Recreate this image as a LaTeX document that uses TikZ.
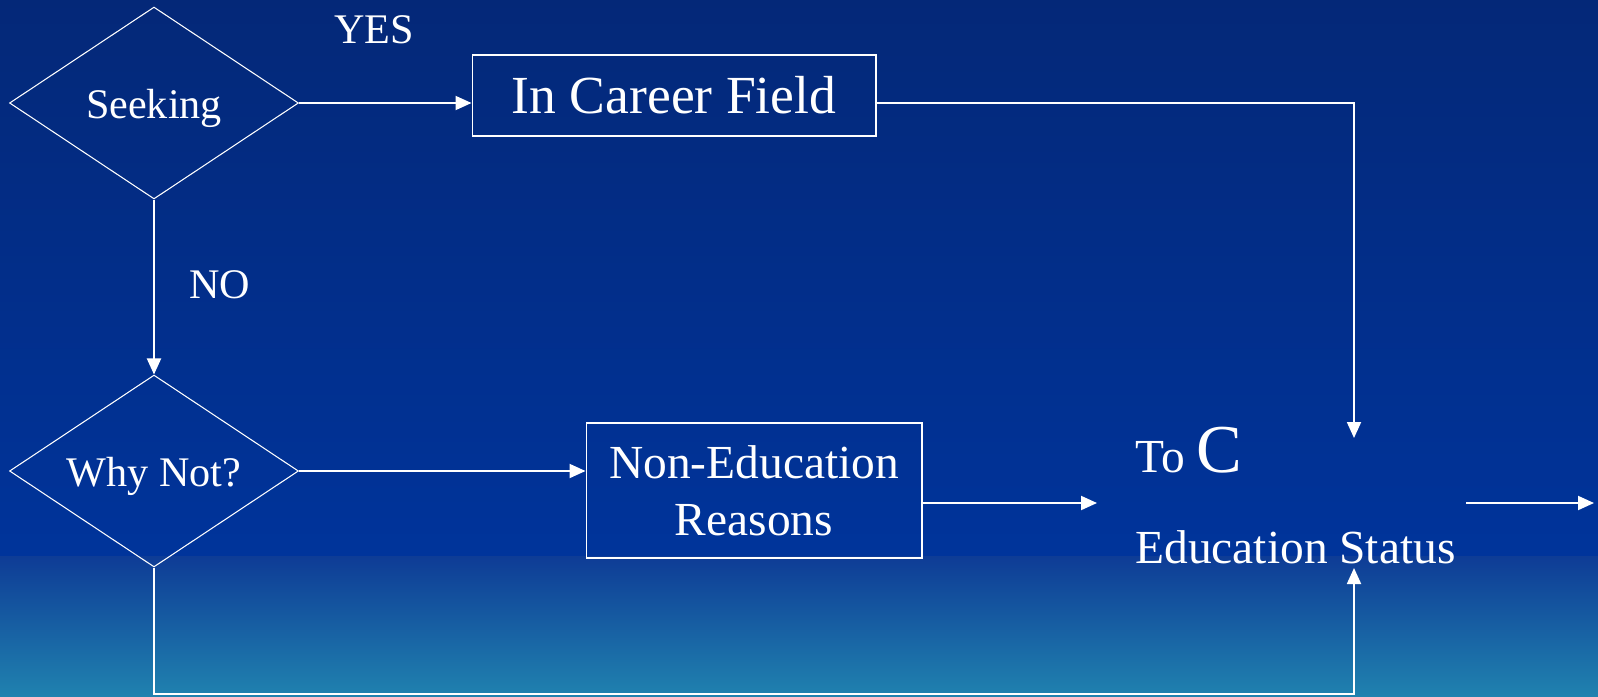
\documentclass[tikz,border=0pt]{standalone}
\usepackage{fontspec}
\setmainfont{Liberation Serif}
\usepackage{tikz}
\usetikzlibrary{arrows.meta,shapes.geometric,positioning}

\definecolor{bgtop}{RGB}{4,40,120}
\definecolor{bgmid}{RGB}{0,52,155}
\definecolor{bglow}{RGB}{14,60,150}
\definecolor{bgbot}{RGB}{32,130,175}

\begin{document}
\begin{tikzpicture}[x=0.02cm,y=-0.02cm,>={Triangle[length=0.32cm,width=0.28cm]}]
            \tikzstyle{decision}=[diamond,aspect=1.5,draw=white,line width=0.6pt,minimum width=5.78cm,minimum height=3.84cm,inner sep=0pt,text height=23pt,text depth=5.2pt,text=white,font=\fontsize{24}{28}\selectfont]
            \tikzstyle{stage}=[rectangle,draw=white,line width=0.6pt,inner sep=0pt,text=white,align=center]
            \tikzstyle{flow}=[draw=white,line width=1.1pt,->]
            \tikzstyle{answer}=[text=white,font=\fontsize{24}{28}\selectfont]
            % background
            \useasboundingbox (0,0) rectangle (1598,696);
            \shade[top color=bgtop,bottom color=bgmid] (0,0) rectangle (1598,557);
            \shade[top color=bglow,bottom color=bgbot] (0,556) rectangle (1598,696);
            \begin{scope}
            \node[decision] (seek) at (154,103) {Seeking};
            \node[decision] (why) at (154,471) {Why Not?};
            \node[stage,minimum width=8.08cm,minimum height=1.62cm,font=\fontsize{30.5}{36}\selectfont] (career) at (674,95.5) {In Career Field};
            \node[stage,minimum width=6.72cm,minimum height=2.7cm,font=\fontsize{27}{32.5}\selectfont] (nonedu) at (754,490.5) {Non-Education\\Reasons};
            \node[answer] (yes) at (374,30) {YES};
            \node[answer] (no) at (220,285) {NO};
            \node[anchor=base west,inner sep=0pt,text=white,font=\fontsize{27}{32}\selectfont] (toc) at (1135,472) {To {\fontsize{39}{44}\selectfont C}};
            \node[anchor=base west,inner sep=0pt,text=white,font=\fontsize{27}{32}\selectfont] (edstat) at (1135,563) {Education Status};
            \coordinate (tin) at (1354,438);
            \coordinate (bin) at (1354,568);
            \coordinate (lin) at (1097,503);
            \coordinate (rout) at (1466,503);
            \coordinate (rend) at (1594,503);
            \coordinate (base) at (1354,694);
            \end{scope}
            % connectors
            \draw[flow] (seek.east) -- (seek.east -| career.west);
            \draw[flow] (seek.south) -- (why.north);
            \draw[flow] (why.east) -- (why.east -| nonedu.west);
            \draw[flow] (career.east |- seek.east) -| (tin);
            \draw[flow] (nonedu.east |- lin) -- (lin);
            \draw[flow] (why.south) |- (base) -- (bin);
            \draw[flow] (rout) -- (rend);
        \end{tikzpicture}
\end{document}
